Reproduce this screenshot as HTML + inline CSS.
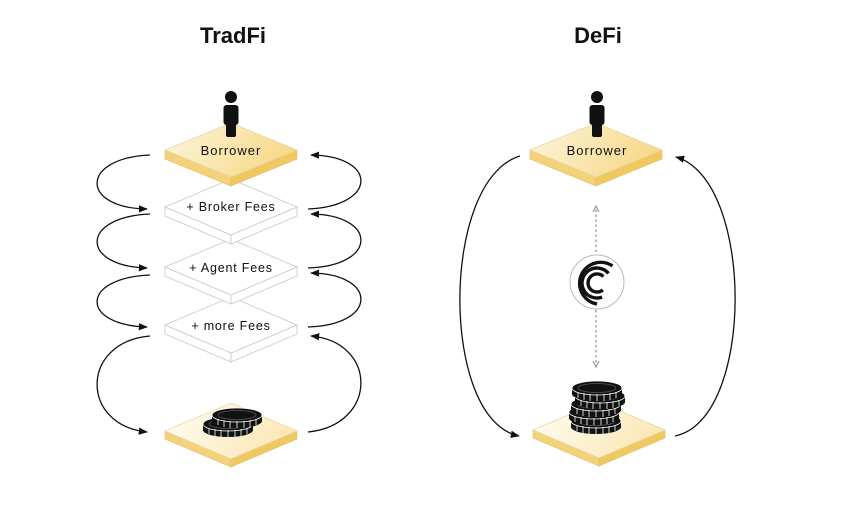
<!DOCTYPE html>
<html><head><meta charset="utf-8"><style>
html,body{margin:0;padding:0;background:#fff;}
svg{display:block;}
text{font-family:"Liberation Sans",sans-serif;}
</style></head><body>
<svg width="845" height="510" viewBox="0 0 845 510" xmlns="http://www.w3.org/2000/svg">
<defs>
<linearGradient id="gt" x1="0" y1="0" x2="1" y2="0.3">
<stop offset="0" stop-color="#fdf6df"/><stop offset="1" stop-color="#f7d98a"/></linearGradient>
<linearGradient id="gt2" x1="0" y1="0" x2="1" y2="0.3">
<stop offset="0" stop-color="#fffdf6"/><stop offset="1" stop-color="#fbe8b6"/></linearGradient>
<marker id="ah" viewBox="0 0 10 10" refX="9" refY="5" markerWidth="7" markerHeight="7" orient="auto-start-reverse">
<path d="M0,1 L10,5 L0,9 z" fill="#111"/></marker>
<marker id="dh" viewBox="0 0 10 10" refX="8" refY="5" markerWidth="6" markerHeight="6" orient="auto-start-reverse">
<path d="M0,1 L8,5 L0,9" fill="none" stroke="#999" stroke-width="1.5"/></marker>
<g id="coin">
<ellipse cx="0" cy="6" rx="25" ry="7" fill="#111"/>
<rect x="-25" y="0" width="50" height="6" fill="#111"/>
<ellipse cx="0" cy="0" rx="25" ry="7" fill="#111" stroke="#fff" stroke-width="0.8"/>
<ellipse cx="0" cy="0" rx="19" ry="4.5" fill="none" stroke="#555" stroke-width="0.8"/>
<path d="M-19,4v6M-13,5v7M-7,6v7M0,6v7M7,6v7M13,5v7M19,4v6" stroke="#fff" stroke-width="0.8"/>
</g>
<g id="person">
<circle cx="0" cy="-27" r="6" fill="#111"/>
<rect x="-7.5" y="-19" width="15" height="20" rx="3" fill="#111"/>
<rect x="-5" y="-2" width="10" height="15" rx="2" fill="#111"/>
</g>
</defs>

<text x="233" y="43" text-anchor="middle" font-size="22" font-weight="bold" fill="#111">TradFi</text>
<text x="598" y="43" text-anchor="middle" font-size="22" font-weight="bold" fill="#111">DeFi</text>

<g>
<polygon points="165,431 231,459 231,467 165,439" fill="#f4d27a" stroke="#e0c070" stroke-width="0.6"/>
<polygon points="297,431 231,459 231,467 297,439" fill="#f0c860" stroke="#e0c070" stroke-width="0.6"/>
<polygon points="231,403 297,431 231,459 165,431" fill="url(#gt2)" stroke="#e6d7a8" stroke-width="0.8"/>
</g>
<use href="#coin" x="228" y="424"/>
<use href="#coin" x="237" y="415"/>

<g fill="#fff" stroke="#c8c8c8" stroke-width="0.8">
<polygon points="165,325 231,353 231,362 165,334"/>
<polygon points="297,325 231,353 231,362 297,334"/>
<polygon points="231,297 297,325 231,353 165,325"/>
</g>
<text x="231" y="330" text-anchor="middle" font-size="12.5" letter-spacing="0.8" fill="#111">+ more Fees</text>
<g fill="#fff" stroke="#c8c8c8" stroke-width="0.8">
<polygon points="165,267 231,295 231,304 165,276"/>
<polygon points="297,267 231,295 231,304 297,276"/>
<polygon points="231,239 297,267 231,295 165,267"/>
</g>
<text x="231" y="272" text-anchor="middle" font-size="12.5" letter-spacing="0.8" fill="#111">+ Agent Fees</text>
<g fill="#fff" stroke="#c8c8c8" stroke-width="0.8">
<polygon points="165,207 231,235 231,244 165,216"/>
<polygon points="297,207 231,235 231,244 297,216"/>
<polygon points="231,179 297,207 231,235 165,207"/>
</g>
<text x="231" y="211" text-anchor="middle" font-size="12.5" letter-spacing="0.8" fill="#111">+ Broker Fees</text>
<g>
<polygon points="165,150 231,177 231,186 165,159" fill="#f4d27a" stroke="#e0c070" stroke-width="0.6"/>
<polygon points="297,150 231,177 231,186 297,159" fill="#f0c860" stroke="#e0c070" stroke-width="0.6"/>
<polygon points="231,123 297,150 231,177 165,150" fill="url(#gt)" stroke="#e6d7a8" stroke-width="0.8"/>
</g>
<use href="#person" x="231" y="124"/>
<text x="231" y="155" text-anchor="middle" font-size="13" letter-spacing="1" fill="#111">Borrower</text>

<g fill="none" stroke="#111" stroke-width="1.3" marker-end="url(#ah)">
<path d="M150,155 C80,158 80,208 147,209"/>
<path d="M150,214 C80,217 80,266 147,268"/>
<path d="M150,275 C80,278 80,325 147,327"/>
<path d="M150,336 C80,342 80,425 147,432"/>
<path d="M308,209 C378,206 378,156 311,155"/>
<path d="M308,268 C378,266 378,215 311,214"/>
<path d="M308,327 C378,325 378,274 311,273"/>
<path d="M308,432 C378,425 378,342 311,336"/>
</g>

<g>
<polygon points="533,430 599,458 599,466 533,438" fill="#f4d27a" stroke="#e0c070" stroke-width="0.6"/>
<polygon points="665,430 599,458 599,466 665,438" fill="#f0c860" stroke="#e0c070" stroke-width="0.6"/>
<polygon points="599,402 665,430 599,458 533,430" fill="url(#gt2)" stroke="#e6d7a8" stroke-width="0.8"/>
</g>
<use href="#coin" x="596" y="421"/>
<use href="#coin" x="594" y="412"/>
<use href="#coin" x="596" y="404"/>
<use href="#coin" x="600" y="396"/>
<use href="#coin" x="597" y="388"/>

<g>
<polygon points="530,150 596,177 596,186 530,159" fill="#f4d27a" stroke="#e0c070" stroke-width="0.6"/>
<polygon points="662,150 596,177 596,186 662,159" fill="#f0c860" stroke="#e0c070" stroke-width="0.6"/>
<polygon points="596,123 662,150 596,177 530,150" fill="url(#gt)" stroke="#e6d7a8" stroke-width="0.8"/>
</g>
<use href="#person" x="597" y="124"/>
<text x="597" y="155" text-anchor="middle" font-size="13" letter-spacing="1" fill="#111">Borrower</text>

<path d="M596,252 L596,206" stroke="#999" stroke-width="1.3" stroke-dasharray="2.5,2.5" fill="none" marker-end="url(#dh)"/>
<path d="M596,310 L596,367" stroke="#999" stroke-width="1.3" stroke-dasharray="2.5,2.5" fill="none" marker-end="url(#dh)"/>
<circle cx="597" cy="282" r="27" fill="#fff" stroke="#bbb" stroke-width="1"/>
<g fill="none" stroke="#111" stroke-width="3.4">
<path d="M603.4,276.6 A9,9 0 1 0 602.8,289.9"/>
<path d="M608.5,273.4 A15,15 0 1 0 602.1,297.1"/>
<path d="M612.5,266 A21,21 0 1 0 597,304"/>
</g>

<g fill="none" stroke="#111" stroke-width="1.3" marker-end="url(#ah)">
<path d="M520,156 C440,180 440,420 519,436"/>
<path d="M675,436 C755,420 755,180 676,157"/>
</g>
</svg>
</body></html>
